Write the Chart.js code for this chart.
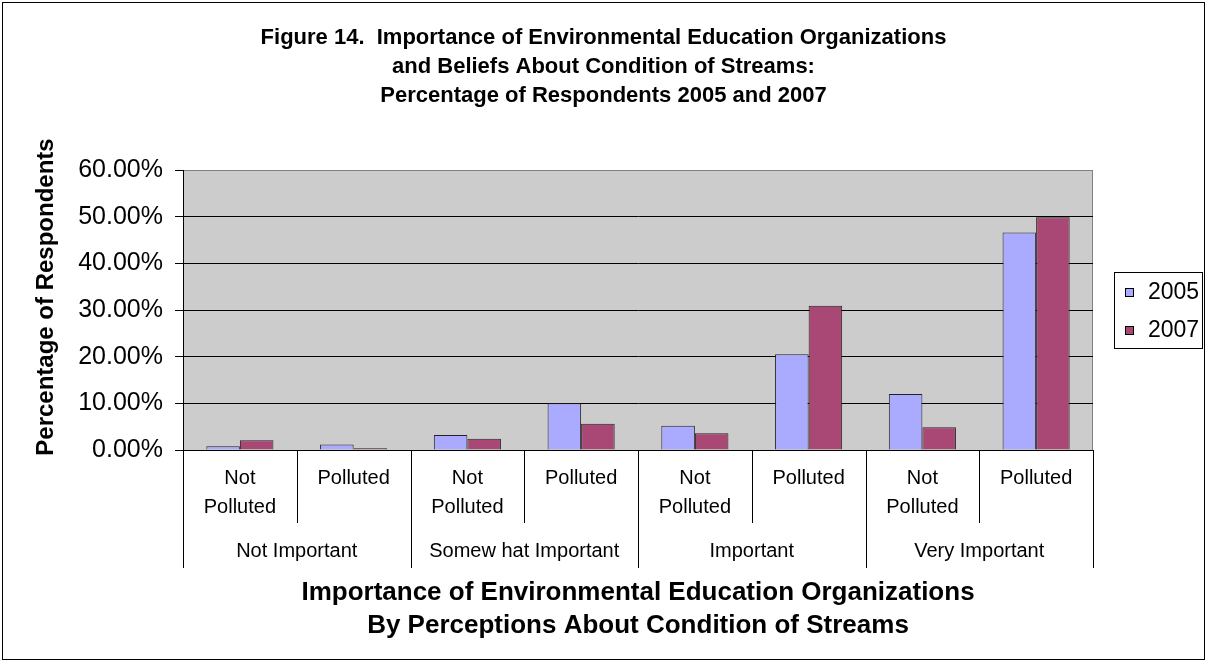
<!DOCTYPE html>
<html>
<head>
<meta charset="utf-8">
<script src="https://cdn.jsdelivr.net/npm/chart.js@4/dist/chart.umd.min.js"></script>
<style>
  html, body { margin: 0; padding: 0; background: #fff; }
  canvas { display: block; }
</style>
</head>
<body>
<canvas id="chart" width="1207" height="663"></canvas>
<script>
const subLabels = [['Not', 'Polluted'], 'Polluted', ['Not', 'Polluted'], 'Polluted',
                   ['Not', 'Polluted'], 'Polluted', ['Not', 'Polluted'], 'Polluted'];
const groupLabels = ['Not Important', 'Somew hat Important', 'Important', 'Very Important'];
const years = ['2005', '2007'];
const values2005 = [0.8, 1.2, 3.2, 10.0, 5.2, 20.5, 12.0, 46.6];
const values2007 = [2.1, 0.35, 2.4, 5.6, 3.6, 30.9, 4.9, 49.9];
const yTicks = [0, 10, 20, 30, 40, 50, 60];

const FONT = 'Arial, "Liberation Sans", sans-serif';
const colors = ['#AAAAFF', '#A94875'];

// grey plot area, two-level category separators, legend box, outer frame
const excelLook = {
    id: 'excelLook',
    beforeDraw(chart) {
        const { ctx, chartArea: a } = chart;
        ctx.save();
        ctx.fillStyle = '#fff';
        ctx.fillRect(0, 0, chart.width, chart.height);
        ctx.fillStyle = '#CCCCCC';
        ctx.fillRect(a.left, a.top, a.right - a.left, a.bottom - a.top);
        ctx.strokeStyle = '#808080';
        ctx.lineWidth = 1;
        ctx.beginPath();
        ctx.moveTo(a.left, a.top + 0.5);
        ctx.lineTo(a.right - 0.5, a.top + 0.5);
        ctx.lineTo(a.right - 0.5, a.bottom);
        ctx.stroke();
        ctx.restore();
    },
    afterDraw(chart) {
        const { ctx, chartArea: a } = chart;
        const x = chart.scales.x;
        const step = x.getPixelForValue(1) - x.getPixelForValue(0);
        ctx.save();
        ctx.strokeStyle = '#000';
        ctx.lineWidth = 1;
        for (let i = 0; i <= subLabels.length; i++) {
            const px = Math.round(x.getPixelForValue(i) - step / 2) + 0.5;
            const end = i % 2 === 0 ? 568 : 523;
            ctx.beginPath();
            ctx.moveTo(px, a.bottom);
            ctx.lineTo(px, end);
            ctx.stroke();
        }
        ctx.fillStyle = '#000';
        ctx.font = '20px ' + FONT;
        ctx.textAlign = 'center';
        ctx.textBaseline = 'middle';
        groupLabels.forEach((g, i) => {
            const cx = (x.getPixelForValue(i * 2) + x.getPixelForValue(i * 2 + 1)) / 2;
            ctx.fillText(g, cx, 551);
        });

        // y axis title sits a little above the plot centre in the original
        ctx.save();
        ctx.translate(46, 297);
        ctx.rotate(-Math.PI / 2);
        ctx.font = 'bold 24px ' + FONT;
        ctx.fillText('Percentage of Respondents', 0, 0);
        ctx.restore();

        // legend
        const lx = 1114, ly = 272, lw = 88, lh = 76;
        ctx.fillStyle = '#fff';
        ctx.fillRect(lx, ly, lw, lh);
        ctx.strokeRect(lx + 0.5, ly + 0.5, lw, lh);
        ctx.font = '23px ' + FONT;
        ctx.textAlign = 'left';
        chart.data.datasets.forEach((ds, i) => {
            const cy = ly + 20 + i * 38;
            ctx.fillStyle = ds.backgroundColor;
            ctx.fillRect(lx + 11, cy - 4, 9, 9);
            ctx.strokeStyle = '#000';
            ctx.strokeRect(lx + 11.5, cy - 3.5, 8, 8);
            ctx.fillStyle = '#000';
            ctx.fillText(ds.label, lx + 34, cy + 1);
        });

        ctx.strokeStyle = '#000';
        ctx.strokeRect(2.5, 2.5, 1202, 657);
        ctx.restore();
    }
};

new Chart(document.getElementById('chart'), {
    type: 'bar',
    data: {
        labels: subLabels,
        datasets: [
            { label: years[0], data: values2005, backgroundColor: colors[0], borderColor: '#222', borderWidth: 1 },
            { label: years[1], data: values2007, backgroundColor: colors[1], borderColor: '#222', borderWidth: 1 }
        ]
    },
    options: {
        responsive: false,
        animation: false,
        layout: { padding: 0 },
        datasets: { bar: { categoryPercentage: 0.59, barPercentage: 1.0 } },
        plugins: {
            legend: { display: false },
            tooltip: { enabled: false },
            title: {
                display: true,
                text: ['Figure 14.  Importance of Environmental Education Organizations',
                       'and Beliefs About Condition of Streams:',
                       'Percentage of Respondents 2005 and 2007'],
                color: '#000',
                font: { family: FONT, size: 22, weight: 'bold', lineHeight: '29px' },
                padding: { top: 23, bottom: 60 }
            }
        },
        scales: {
            x: {
                offset: true,
                grid: { display: false, drawTicks: false },
                border: { display: true, color: '#000' },
                ticks: {
                    color: '#000',
                    font: { family: FONT, size: 20, lineHeight: '29px' },
                    padding: 14,
                    maxRotation: 0,
                    autoSkip: false
                },
                title: {
                    display: true,
                    text: ['Importance of Environmental Education Organizations',
                           'By Perceptions About Condition of Streams'],
                    color: '#000',
                    font: { family: FONT, size: 26, weight: 'bold', lineHeight: '33px' },
                    padding: { top: 0, bottom: 21 }
                },
                afterFit: s => { s.height = 213; }
            },
            y: {
                min: 0,
                max: 60,
                afterBuildTicks: s => { s.ticks = yTicks.map(v => ({ value: v })); },
                grid: {
                    color: c => (c.tick && c.tick.value === 60 ? '#808080' : '#000'),
                    tickColor: '#000',
                    tickLength: 8,
                    lineWidth: 1
                },
                border: { display: true, color: '#000' },
                ticks: {
                    color: '#000',
                    font: { family: FONT, size: 25 },
                    padding: 12,
                    callback: v => v.toFixed(2) + '%'
                },
                afterFit: s => { s.width = 183; }
            },
            // empty axis, keeps room for the legend on the right
            yr: {
                position: 'right',
                display: true,
                grid: { display: false },
                border: { display: false },
                ticks: { display: false },
                afterFit: s => { s.width = 114; }
            }
        }
    },
    plugins: [excelLook]
});
</script>
</body>
</html>
